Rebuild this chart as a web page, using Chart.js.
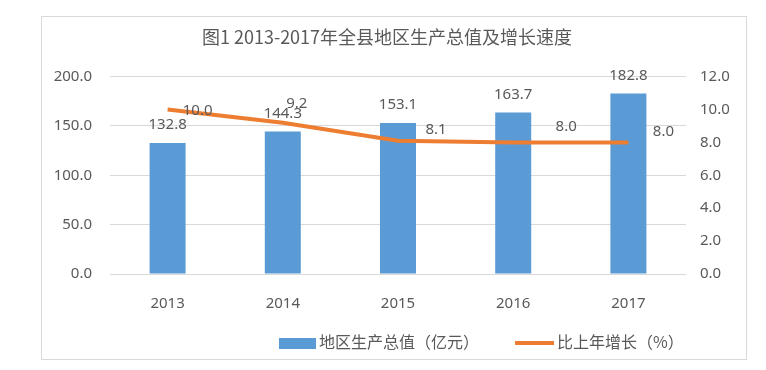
<!DOCTYPE html>
<html>
<head>
<meta charset="utf-8">
<script src="https://cdn.jsdelivr.net/npm/chart.js@4.4.0/dist/chart.umd.min.js"></script>
<style>
  body { margin: 0; background: #fff; }
  #wrap { position: relative; width: 766px; height: 370px; }
  .leyenda { position: absolute; top: 331px; height: 20px; font: 16px "Noto Sans CJK SC", sans-serif; color: #595959; line-height: 20px; white-space: nowrap; }
  .marca { position: absolute; }
</style>
</head>
<body>
<div id="wrap">
  <canvas id="myChart" width="766" height="370"></canvas>
  <div class="marca" style="left:279px; top:338px; width:37px; height:11px; background:#5b9bd5;"></div>
  <div class="leyenda" id="ley-barra" style="left:319px;"></div>
  <div class="marca" style="left:515px; top:341px; width:39px; height:4px; background:#ed7d31;"></div>
  <div class="leyenda" id="ley-linea" style="left:557px;"></div>
</div>
<script>
const anios = ['2013', '2014', '2015', '2016', '2017'];
const valorProduccion = [132.8, 144.3, 153.1, 163.7, 182.8];
const crecimiento = [10.0, 9.2, 8.1, 8.0, 8.0];
const ticksIzq = [0, 50, 100, 150, 200];
const ticksDer = [0, 2, 4, 6, 8, 10, 12];
const nombreBarra = '地区生产总值（亿元）';
const nombreLinea = '比上年增长（%）';

document.querySelector('#ley-barra').textContent = nombreBarra;
document.querySelector('#ley-linea').textContent = nombreLinea;

const colorTexto = '#595959';
const fuenteNum = { family: '"Noto Sans", sans-serif', size: 15 };

// etiquetas de datos y marco exterior
const etiquetas = {
    id: 'etiquetas',
    beforeDraw(chart) {
        const ctx = chart.ctx;
        ctx.save();
        ctx.fillStyle = '#fff';
        ctx.fillRect(0, 0, chart.width, chart.height);
        ctx.strokeStyle = '#d9d9d9';
        ctx.lineWidth = 1;
        ctx.strokeRect(41.5, 16.5, 705, 343);
        ctx.restore();
    },
    afterDatasetsDraw(chart, args, opts) {
        const ctx = chart.ctx;
        ctx.save();
        ctx.font = '15px "Noto Sans", sans-serif';
        ctx.fillStyle = colorTexto;
        ctx.textAlign = 'center';
        ctx.textBaseline = 'middle';
        chart.getDatasetMeta(0).data.forEach((barra, i) => {
            ctx.fillText(valorProduccion[i].toFixed(1), barra.x, barra.y - 18);
        });
        chart.getDatasetMeta(1).data.forEach((punto, i) => {
            const d = opts.desplazamientos[i];
            ctx.fillText(crecimiento[i].toFixed(1), punto.x + d[0], punto.y + d[1]);
        });
        ctx.restore();
    }
};

const ctx = document.getElementById('myChart');

const grafica = new Chart(ctx, {
    data: {
        labels: anios,
        datasets: [{
            type: 'bar',
            label: nombreBarra,
            data: valorProduccion,
            backgroundColor: '#5b9bd5',
            yAxisID: 'y',
            order: 1,
            categoryPercentage: 1,
            barPercentage: 0.3125
        }, {
            type: 'line',
            label: nombreLinea,
            data: crecimiento,
            borderColor: '#ed7d31',
            backgroundColor: '#ed7d31',
            borderWidth: 4,
            pointRadius: 0,
            tension: 0,
            yAxisID: 'y1',
            order: 0
        }]
    },
    options: {
        responsive: false,
        animation: false,
        layout: {
            padding: { left: 41, right: 33, top: 16, bottom: 0 }
        },
        plugins: {
            legend: { display: false },
            tooltip: { enabled: false },
            title: {
                display: true,
                text: '图1 2013-2017年全县地区生产总值及增长速度',
                color: colorTexto,
                font: { family: '"Noto Sans CJK SC", sans-serif', size: 18, weight: 'normal', lineHeight: 1.2 },
                padding: { top: 10, bottom: 29 }
            },
            etiquetas: {
                desplazamientos: [[30, 1], [14, -19], [38, -11], [53, -16], [35, -11]]
            }
        },
        scales: {
            x: {
                grid: { display: false },
                border: { display: false },
                ticks: { color: colorTexto, font: fuenteNum, padding: 13 },
                afterFit(scale) { scale.height = 96; }
            },
            y: {
                position: 'left',
                min: 0,
                max: 200,
                afterBuildTicks(scale) { scale.ticks = ticksIzq.map(v => ({ value: v })); },
                grid: { color: '#d9d9d9', drawTicks: false },
                border: { display: false },
                ticks: { color: colorTexto, font: fuenteNum, padding: 18, callback: v => v.toFixed(1) },
                afterFit(scale) { scale.width = 69; }
            },
            y1: {
                position: 'right',
                min: 0,
                max: 12,
                afterBuildTicks(scale) { scale.ticks = ticksDer.map(v => ({ value: v })); },
                grid: { display: false, drawTicks: false },
                border: { display: false },
                ticks: { color: colorTexto, font: fuenteNum, padding: 14, callback: v => v.toFixed(1) },
                afterFit(scale) { scale.width = 47; }
            }
        }
    },
    plugins: [etiquetas]
});
</script>
</body>
</html>
